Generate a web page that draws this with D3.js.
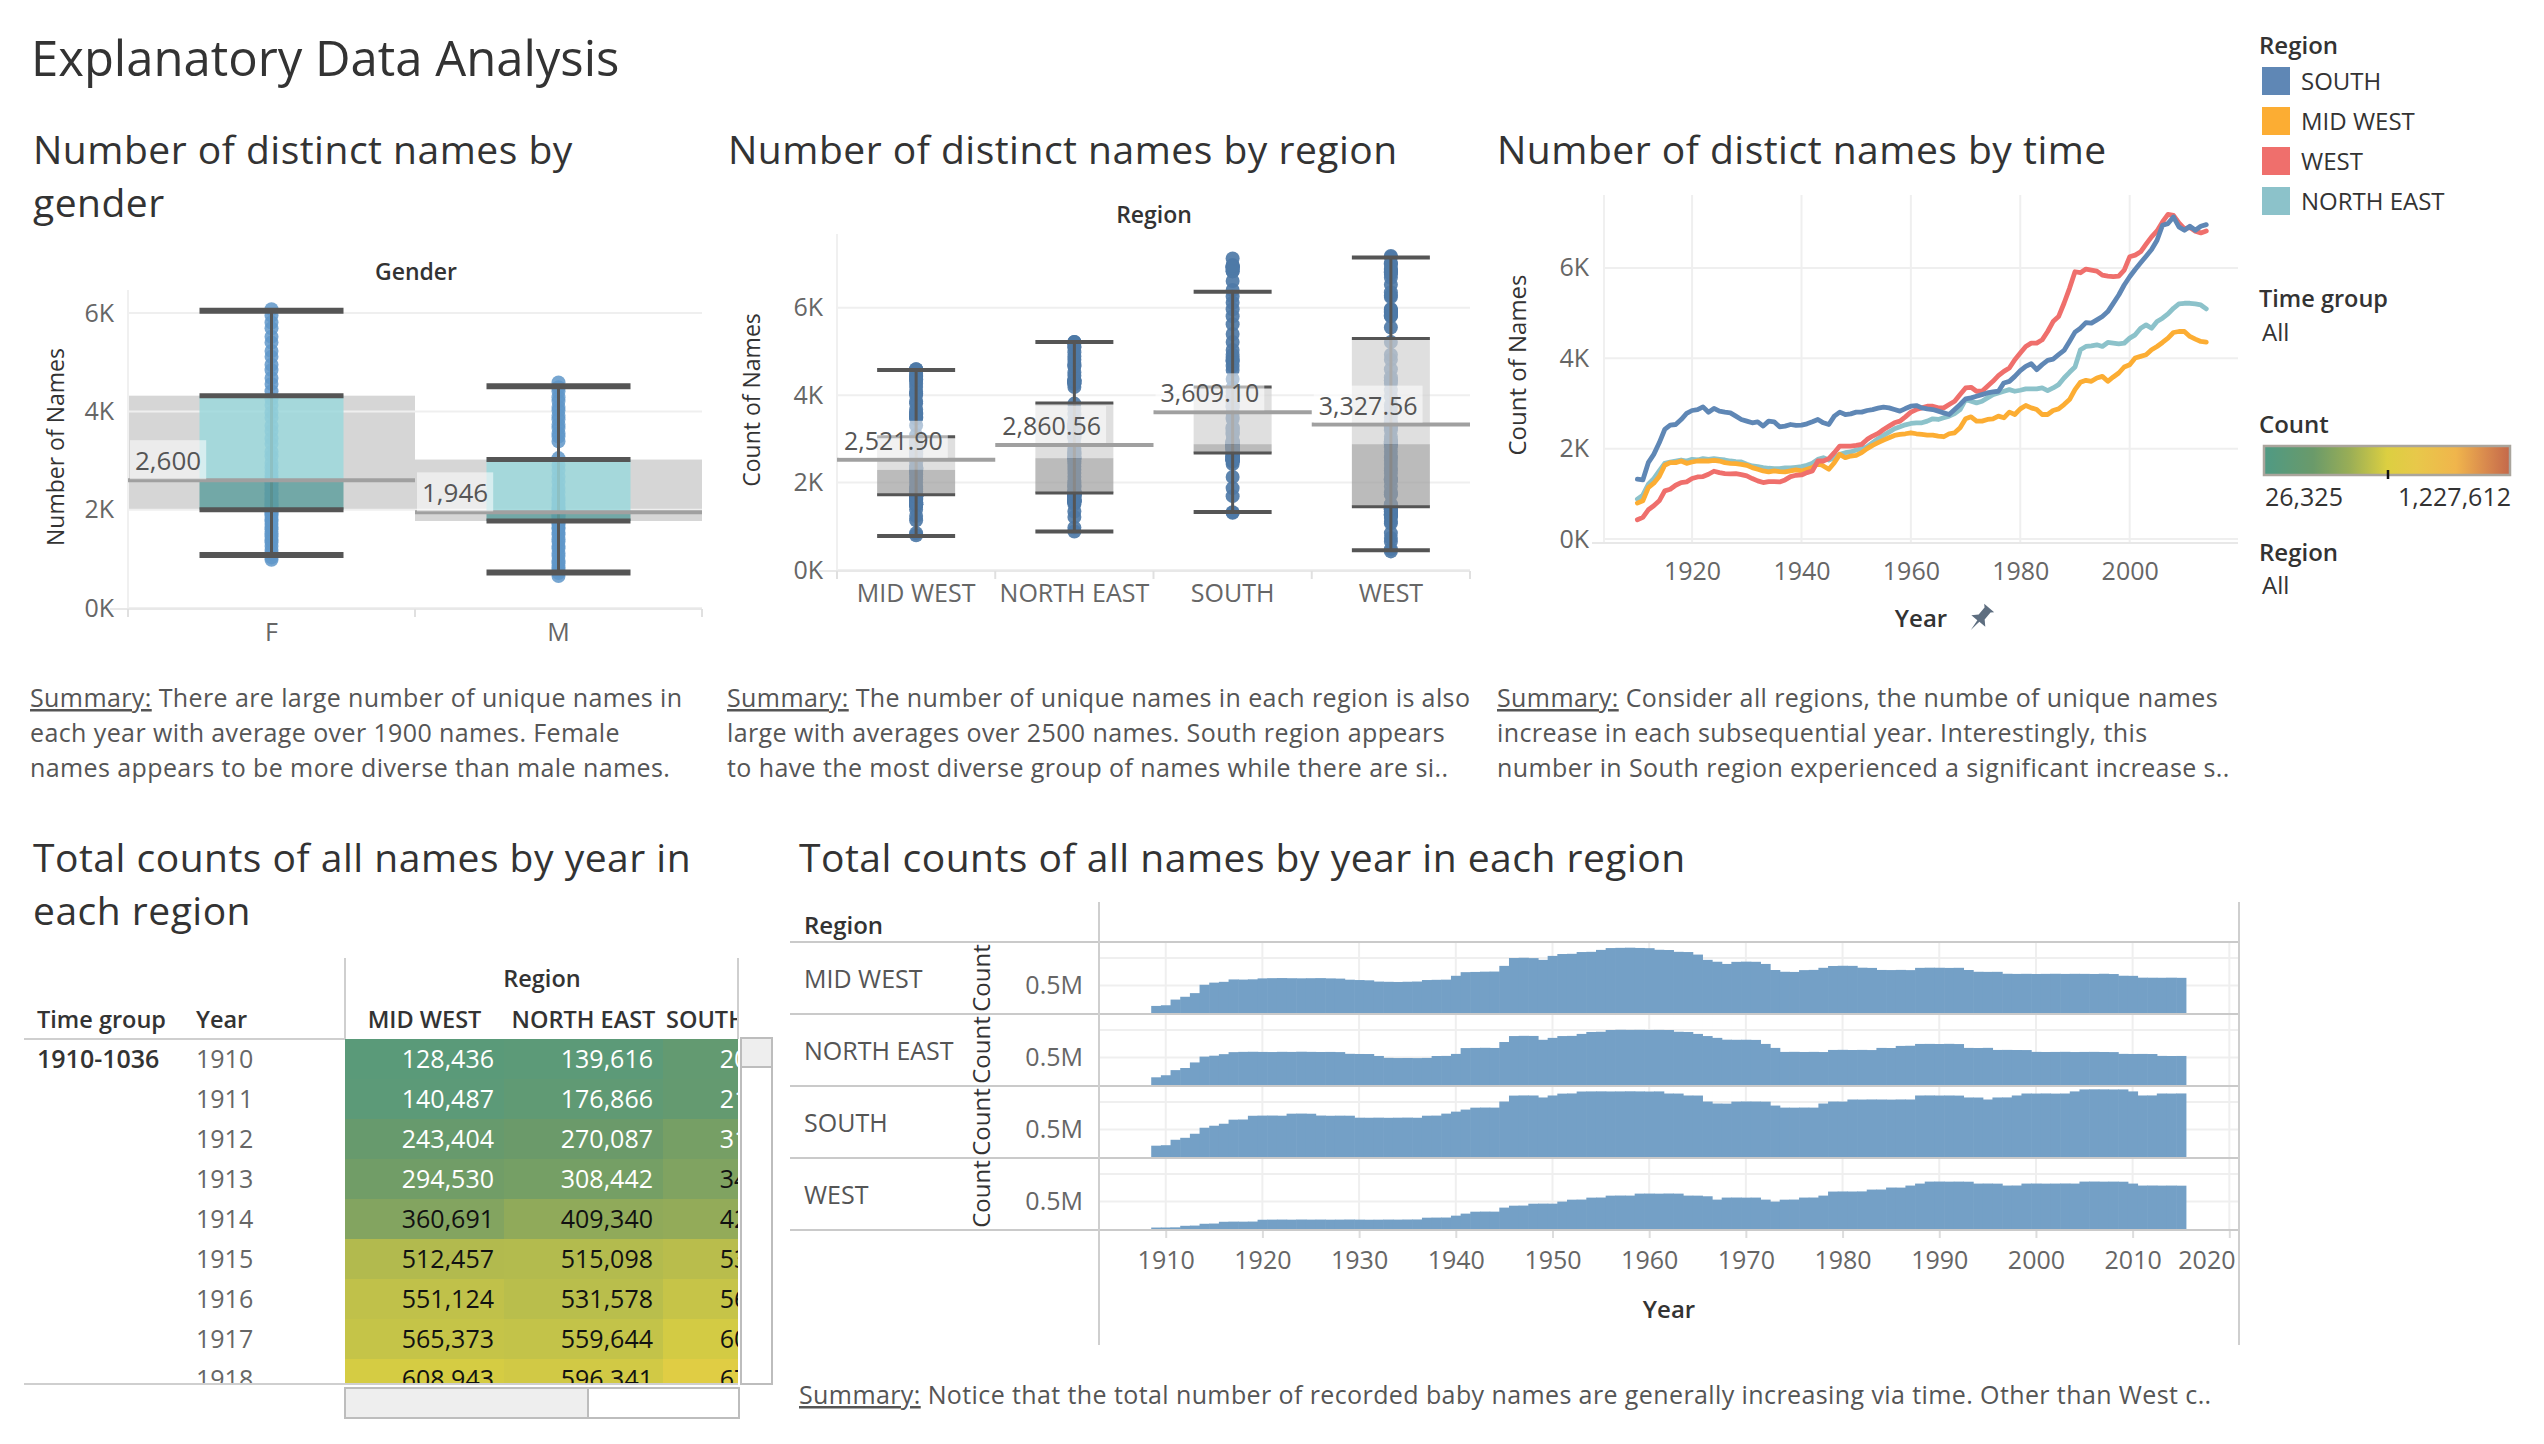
<!DOCTYPE html>
<html>
<head>
<meta charset="utf-8">
<script src="https://cdn.jsdelivr.net/npm/d3@7"></script>
<style>
  body { margin: 0; background: #fff; }
</style>
</head>
<body>
<div id="dash"></div>
<script>
var W = 2544, H = 1444;
var FONT = "'Open Sans', 'Noto Sans', sans-serif";

// ---------------- data ----------------
var regions = ["SOUTH", "MID WEST", "WEST", "NORTH EAST"];
var regionColors = ["#5f87b5", "#fcad33", "#ef6f6c", "#8cc2ca"];
var boxRegions = ["MID WEST", "NORTH EAST", "SOUTH", "WEST"];
var genders = ["F", "M"];

// distinct names per year (line chart + dots of the region box plot)
var lineYears = d3.range(1910, 2015);
var distinctSouth = [1323,1308,1690,1874,2130,2425,2520,2535,2645,2780,
  2845,2866,2925,2808,2890,2830,2808,2793,2720,2646,
  2610,2572,2595,2500,2610,2595,2484,2500,2535,2514,
  2520,2550,2595,2646,2572,2535,2720,2808,2756,2771,
  2808,2808,2845,2866,2896,2918,2903,2866,2830,2888,
  2940,2955,2903,2881,2866,2830,2793,2756,2866,2977,
  3102,3124,3160,3197,3234,3256,3271,3455,3490,3600,
  3726,3822,3880,3750,3860,3955,3984,4080,4175,4373,
  4580,4667,4792,4778,4850,4925,5035,5218,5402,5623,
  5807,5968,6115,6262,6409,6615,6946,6983,7130,6910,
  6836,6924,6836,6924,6960];
var distinctMidWest = [794,845,1139,1235,1382,1632,1690,1690,1727,1676,
  1705,1727,1727,1727,1742,1727,1690,1676,1668,1654,
  1632,1580,1543,1507,1485,1507,1492,1485,1507,1529,
  1507,1543,1580,1676,1617,1543,1690,1874,1800,1837,
  1852,1911,2000,2073,2132,2190,2242,2293,2315,2330,
  2352,2330,2315,2300,2300,2279,2264,2330,2352,2462,
  2661,2705,2609,2609,2646,2661,2720,2683,2808,2756,
  2881,2955,2903,2866,2756,2756,2845,2881,2977,3087,
  3308,3469,3513,3491,3565,3601,3491,3587,3675,3808,
  3859,4006,4043,4079,4190,4263,4351,4447,4572,4594,
  4594,4484,4425,4373,4359];
var distinctWest = [426,478,647,735,845,1066,1102,1190,1250,1264,
  1338,1374,1382,1433,1500,1470,1448,1440,1448,1426,
  1396,1338,1286,1250,1272,1272,1264,1308,1382,1411,
  1418,1470,1507,1727,1727,1779,1911,2058,2058,2058,
  2073,2095,2205,2279,2337,2425,2499,2572,2609,2705,
  2808,2866,2903,2940,2940,2903,2903,2977,3050,3197,
  3344,3359,3271,3271,3381,3491,3616,3712,3785,3969,
  4116,4263,4337,4337,4410,4594,4814,4925,5219,5549,
  5917,5895,5976,5954,5931,5843,5821,5807,5821,5954,
  6248,6284,6358,6527,6689,6821,7019,7188,7166,6997,
  6872,6894,6814,6777,6821];
var distinctNorthEast = [882,970,1213,1338,1507,1676,1705,1727,1749,1727,
  1764,1749,1779,1764,1779,1764,1749,1727,1713,1705,
  1654,1617,1602,1580,1566,1558,1558,1573,1573,1588,
  1602,1632,1676,1764,1800,1749,1800,1874,1911,1926,
  1970,2000,2043,2132,2220,2293,2367,2440,2484,2528,
  2558,2573,2573,2609,2661,2646,2683,2720,2778,2866,
  3087,3050,3014,3050,3124,3197,3234,3271,3308,3271,
  3293,3322,3322,3322,3344,3285,3344,3418,3565,3690,
  3808,4190,4263,4278,4300,4263,4351,4337,4322,4337,
  4447,4520,4667,4740,4667,4814,4888,4983,5108,5204,
  5219,5219,5204,5182,5094];

// distinct names per year by gender (dots of the gender box plot)
var distinctFemale = [980,1030,1110,1180,1260,1340,1390,1460,1520,1600,1650,1710,1770,1800,1870,
  1920,1950,2010,2040,2090,2110,2170,2220,2250,2310,2340,2400,2430,2490,2540,2580,2630,2690,
  2770,2860,2950,3090,3180,3340,3450,3600,3710,3870,3980,4130,4250,4410,4560,4680,4840,4950,
  5110,5230,5400,5520,5690,5810,5950,6080];
var distinctMale = [650,710,770,830,910,960,1060,1110,1210,1260,1350,1400,1490,1530,1610,1640,
  1710,1730,1790,1800,1860,1870,1920,1930,1980,2010,2060,2120,2190,2250,2360,2440,2570,2670,
  2810,2910,3050,3390,3490,3550,3660,3730,3840,3910,4020,4090,4210,4290,4410,4490,4590];

// box plot statistics
var genderLow = [1080, 720], genderQ1 = [2000, 1770], genderMedian = [2620, 1960],
    genderQ3 = [4320, 3020], genderHigh = [6050, 4510], genderAvg = [2600, 1946];
var regionLow = [780, 880, 1330, 450], regionQ1 = [1720, 1760, 2680, 1450],
    regionMedian = [2290, 2560, 2880, 2880], regionQ3 = [3050, 3820, 4190, 5300],
    regionHigh = [4580, 5220, 6370, 7150], regionAvg = [2521.90, 2860.56, 3609.10, 3327.56];

// total counts (thousands) per year, 1910-2016
var barYears = d3.range(1910, 2017);
var countMidWest = [128.436,140.487,243.404,294.530,360.691,512.457,551.124,565.373,608.943,606,
  611,628,632,634,631,629,631,633,628,624,
  604,598,593,570,566,563,567,571,598,602,
  605,675,741,745,750,752,855,998,1002,996,
  964,1036,1070,1074,1106,1110,1145,1178,1182,1185,
  1180,1176,1147,1143,1110,1106,1060,964,930,890,
  928,932,929,890,780,748,745,778,782,820,
  853,857,855,822,818,781,779,782,778,819,
  822,821,818,820,780,748,746,747,712,709,
  711,708,710,712,709,711,710,708,712,707,
  676,674,641,640,639,641,638];
var countNorthEast = [139.616,176.866,270.087,308.442,409.340,515.098,531.578,559.644,596.341,601,
  603,600,598,602,600,604,601,599,600,597,
  566,563,562,527,492,489,490,488,491,526,
  528,564,670,673,675,672,780,888,892,890,
  820,855,888,891,927,962,966,998,1002,1000,
  1001,999,1000,998,966,962,927,888,855,822,
  820,821,818,745,673,600,602,599,601,598,
  636,638,635,637,634,673,671,709,712,745,
  746,744,747,743,673,671,674,636,637,635,
  634,601,599,600,602,598,600,601,599,597,
  565,563,564,562,528,526,527];
var countSouth = [205.318,214.027,312.466,348.205,421.873,531.092,567.344,603.518,677.102,680,
  748,751,752,749,786,788,785,752,748,750,
  749,713,712,714,711,713,715,712,749,751,
  787,823,860,895,897,896,1006,1114,1117,1116,
  1080,1116,1150,1153,1188,1190,1191,1189,1190,1192,
  1190,1188,1190,1152,1151,1116,1115,1006,970,968,
  1005,1007,1006,1004,933,896,895,897,896,970,
  1006,1005,1043,1042,1044,1043,1041,1044,1043,1116,
  1117,1115,1116,1114,1080,1079,1043,1080,1081,1116,
  1152,1151,1153,1150,1152,1190,1226,1227.612,1227,1225,
  1226,1190,1116,1117,1152,1151,1153];
var countWest = [26.325,27,30,58,62,95,99,131,134,133,
  135,168,170,171,169,172,170,171,169,170,
  172,170,168,169,171,170,172,173,205,207,
  208,242,279,314,316,315,388,423,425,459,
  461,460,497,532,534,569,571,605,607,606,
  642,643,641,644,642,606,605,594,533,570,
  571,569,570,533,497,532,534,570,571,606,
  679,681,680,682,715,716,752,751,788,824,
  860,861,859,860,858,824,825,823,788,789,
  824,825,823,824,826,824,860,861,859,860,
  858,824,788,789,787,788,786];

var tableRegions = ["MID WEST", "NORTH EAST", "SOUTH"];
var tableYears = [1910, 1911, 1912, 1913, 1914, 1915, 1916, 1917, 1918];
var tableGroup = "1910-1036";

// ---------------- helpers ----------------
var svg = d3.select('#dash').append('svg')
  .attr('width', W).attr('height', H)
  .style('background', '#fff')
  .style('font-family', FONT);

function label(x, y, txt, size, color, anchor, weight) {
  return svg.append('text')
    .attr('x', x).attr('y', y)
    .attr('text-anchor', anchor || 'start')
    .attr('fill', color || '#333')
    .style('font-size', size + 'px')
    .style('font-weight', weight || 400)
    .text(txt);
}

function title(x, y, txt) {
  return label(x, y, txt, 39, '#333').style('letter-spacing', '0.5px');
}

function vlabel(x, y, txt, size, color) {
  return svg.append('text')
    .attr('transform', 'translate(' + x + ',' + y + ') rotate(-90)')
    .attr('text-anchor', 'middle')
    .attr('fill', color || '#333')
    .style('font-size', size + 'px')
    .text(txt);
}

function hline(x1, x2, y, color, w) {
  svg.append('line').attr('x1', x1).attr('x2', x2).attr('y1', y).attr('y2', y)
    .attr('stroke', color).attr('stroke-width', w || 1);
}
function vline(x, y1, y2, color, w) {
  svg.append('line').attr('x1', x).attr('x2', x).attr('y1', y1).attr('y2', y2)
    .attr('stroke', color).attr('stroke-width', w || 1);
}

function styleAxis(ax, size, color) {
  ax.attr('font-family', FONT);
  ax.select('.domain').remove();
  ax.selectAll('text').style('font-size', size + 'px').attr('fill', color || '#666');
}

function summary(x, y, lines) {
  var t = svg.append('text').attr('x', x).attr('y', y)
    .attr('fill', '#555').style('font-size', '25px').style('letter-spacing', '0.4px');
  lines.forEach(function(line, i) {
    var ts = t.append('tspan').attr('x', x).attr('dy', i == 0 ? 0 : 35);
    if (i == 0) {
      ts.append('tspan').style('text-decoration', 'underline').text('Summary:');
      t.append('tspan').text(' ' + line);
    } else {
      ts.text(line);
    }
  });
}

// ---------------- titles ----------------
label(31, 76, 'Explanatory Data Analysis', 49, '#333');
title(33, 164, 'Number of distinct names by');
title(33, 217, 'gender');
title(728, 164, 'Number of distinct names by region');
title(1497, 164, 'Number of distict names by time');
title(33, 872, 'Total counts of all names by year in');
title(33, 925, 'each region');
title(799, 872, 'Total counts of all names by year in each region');

// ---------------- box plot panels ----------------
function boxPanel(o) {
  var g = svg.append('g');
  var x = d3.scaleBand().domain(o.cats).range([o.left, o.right]);
  var bw = x.bandwidth();

  if (o.band) {
    g.selectAll('rect.band').data(o.cats).enter().append('rect')
      .attr('class', 'band')
      .attr('x', function(d) { return x(d); })
      .attr('width', bw)
      .attr('y', function(d, i) { return o.y(o.q3[i]); })
      .attr('height', function(d, i) { return o.y(o.q1[i]) - o.y(o.q3[i]); })
      .attr('fill', '#d6d6d6');
  }

  g.selectAll('line.grid').data(o.ticks).enter().append('line')
    .attr('x1', o.left).attr('x2', o.right)
    .attr('y1', function(d) { return o.y(d); })
    .attr('y2', function(d) { return o.y(d); })
    .attr('stroke', '#efefef').attr('stroke-width', 2);

  g.append('line').attr('x1', o.left).attr('x2', o.left)
    .attr('y1', o.top).attr('y2', o.bottom).attr('stroke', '#f0f0f0').attr('stroke-width', 2);
  g.append('line').attr('x1', o.left - 18).attr('x2', o.right)
    .attr('y1', o.bottom).attr('y2', o.bottom).attr('stroke', '#e8e8e8').attr('stroke-width', 2);

  var ax = g.append('g').attr('transform', 'translate(' + o.left + ',0)')
    .call(d3.axisLeft(o.y).tickValues(o.ticks)
      .tickFormat(function(d) { return d / 1000 + 'K'; })
      .tickSize(0).tickPadding(14));
  styleAxis(ax, 25, '#666');

  var bx = g.append('g').attr('transform', 'translate(0,' + o.bottom + ')')
    .call(d3.axisBottom(x).tickSize(0).tickPadding(o.catPad));
  styleAxis(bx, 25, '#666');

  g.selectAll('line.sep').data(o.cats.concat(['end'])).enter().append('line')
    .attr('x1', function(d, i) { return o.left + i * bw; })
    .attr('x2', function(d, i) { return o.left + i * bw; })
    .attr('y1', o.bottom).attr('y2', o.bottom + 8)
    .attr('stroke', '#e0e0e0').attr('stroke-width', 2);

  o.cats.forEach(function(c, i) {
    var cx = x(c) + bw / 2;
    var hw = o.boxW / 2;

    g.append('g').selectAll('circle').data(o.values[i]).enter().append('circle')
      .attr('cx', cx).attr('cy', function(d) { return o.y(d); })
      .attr('r', 7).attr('fill', o.dotFill).attr('fill-opacity', o.dotOpacity);

    g.append('line').attr('x1', cx).attr('x2', cx)
      .attr('y1', o.y(o.low[i])).attr('y2', o.y(o.high[i]))
      .attr('stroke', '#555').attr('stroke-width', 3);

    g.append('rect').attr('x', cx - hw).attr('width', o.boxW)
      .attr('y', o.y(o.q3[i])).attr('height', o.y(o.med[i]) - o.y(o.q3[i]))
      .attr('fill', o.upper).attr('fill-opacity', o.boxOpacity);
    g.append('rect').attr('x', cx - hw).attr('width', o.boxW)
      .attr('y', o.y(o.med[i])).attr('height', o.y(o.q1[i]) - o.y(o.med[i]))
      .attr('fill', o.lower).attr('fill-opacity', o.boxOpacity);

    [o.q1[i], o.q3[i]].forEach(function(v) {
      g.append('line').attr('x1', cx - hw).attr('x2', cx + hw)
        .attr('y1', o.y(v)).attr('y2', o.y(v))
        .attr('stroke', '#555').attr('stroke-width', o.edgeW);
    });
    [o.low[i], o.high[i]].forEach(function(v) {
      g.append('line').attr('x1', cx - hw).attr('x2', cx + hw)
        .attr('y1', o.y(v)).attr('y2', o.y(v))
        .attr('stroke', '#555').attr('stroke-width', o.capW);
    });

    // average reference line
    g.append('line').attr('x1', x(c)).attr('x2', x(c) + bw)
      .attr('y1', o.y(o.avg[i])).attr('y2', o.y(o.avg[i]))
      .attr('stroke', '#a0a0a0').attr('stroke-width', 4);

    var lg = g.append('g');
    var bg = lg.append('rect');
    var lt = lg.append('text')
      .attr('x', x(c) + 7).attr('y', o.y(o.avg[i]) - 10)
      .attr('fill', '#555').style('font-size', o.avgSize + 'px')
      .text(o.avgFormat(o.avg[i]));
    var bb = lt.node().getBBox();
    bg.attr('x', bb.x - 5).attr('y', bb.y - 2)
      .attr('width', bb.width + 10).attr('height', bb.height + 3)
      .attr('fill', '#fff').attr('fill-opacity', 0.55);
  });
}

// gender
label(416, 280, 'Gender', 23, '#333', 'middle', 600);
vlabel(64, 447, 'Number of Names', 23);
boxPanel({
  cats: genders, left: 128, right: 702, top: 290, bottom: 609,
  y: d3.scaleLinear().domain([0, 6470]).range([608, 290]),
  ticks: [0, 2000, 4000, 6000], catPad: 14,
  values: [distinctFemale, distinctMale],
  low: genderLow, q1: genderQ1, med: genderMedian, q3: genderQ3, high: genderHigh, avg: genderAvg,
  avgFormat: d3.format(','), avgSize: 26,
  boxW: 144, band: true,
  upper: '#9ad8dc', lower: '#5b9e9c', boxOpacity: 0.82,
  dotFill: '#5f97c9', dotOpacity: 0.85, edgeW: 5, capW: 6
});

// region
label(1154, 223, 'Region', 23, '#333', 'middle', 600);
vlabel(760, 400, 'Count of Names', 23);
boxPanel({
  cats: boxRegions, left: 837, right: 1470, top: 234, bottom: 571,
  y: d3.scaleLinear().domain([0, 7690]).range([570, 234]),
  ticks: [0, 2000, 4000, 6000], catPad: 13,
  values: [distinctMidWest, distinctNorthEast, distinctSouth, distinctWest],
  low: regionLow, q1: regionQ1, med: regionMedian, q3: regionQ3, high: regionHigh, avg: regionAvg,
  avgFormat: d3.format(',.2f'), avgSize: 25,
  boxW: 78, band: false,
  upper: '#d2d2d2', lower: '#9e9e9e', boxOpacity: 0.7,
  dotFill: '#4e79a7', dotOpacity: 0.92, edgeW: 3, capW: 4
});

// ---------------- line chart ----------------
var lx = d3.scaleLinear().domain([1903.9, 2019.8]).range([1604, 2238]);
var ly = d3.scaleLinear().domain([0, 7616]).range([539, 195]);
var lineTicksX = [1920, 1940, 1960, 1980, 2000];
var lineTicksY = [0, 2000, 4000, 6000];

svg.append('g').selectAll('line').data(lineTicksX).enter().append('line')
  .attr('x1', function(d) { return lx(d); }).attr('x2', function(d) { return lx(d); })
  .attr('y1', 195).attr('y2', 542).attr('stroke', '#efefef').attr('stroke-width', 2);
svg.append('g').selectAll('line').data(lineTicksY).enter().append('line')
  .attr('x1', 1604).attr('x2', 2238)
  .attr('y1', function(d) { return ly(d); }).attr('y2', function(d) { return ly(d); })
  .attr('stroke', '#efefef').attr('stroke-width', 2);
vline(1604, 195, 544, '#f0f0f0', 2);
hline(1592, 2238, 543, '#e8e8e8', 2);

var lax = svg.append('g').attr('transform', 'translate(1604,0)')
  .call(d3.axisLeft(ly).tickValues(lineTicksY)
    .tickFormat(function(d) { return d / 1000 + 'K'; }).tickSize(0).tickPadding(15));
styleAxis(lax, 25, '#666');
var lbx = svg.append('g').attr('transform', 'translate(0,543)')
  .call(d3.axisBottom(lx).tickValues(lineTicksX).tickFormat(d3.format('d')).tickSize(0).tickPadding(19));
styleAxis(lbx, 25, '#666');

vlabel(1526, 365, 'Count of Names', 24);
label(1921, 627, 'Year', 24, '#333', 'middle', 600);
svg.append('path')
  .attr('transform', 'translate(1980,619) rotate(40) scale(1.3)')
  .attr('d', 'M-5,-11 L5,-11 L3,-9 L3,-2 L7,2 L1,2 L0,11 L-1,2 L-7,2 L-3,-2 L-3,-9 Z')
  .attr('fill', '#5e6e80');

var lineSeries = [
  { name: 'NORTH EAST', values: distinctNorthEast },
  { name: 'MID WEST', values: distinctMidWest },
  { name: 'WEST', values: distinctWest },
  { name: 'SOUTH', values: distinctSouth }
];
var regionColor = d3.scaleOrdinal().domain(regions).range(regionColors);
var lineGen = d3.line()
  .x(function(d, i) { return lx(lineYears[i]); })
  .y(function(d) { return ly(d); });
svg.append('g').selectAll('path').data(lineSeries).enter().append('path')
  .attr('d', function(d) { return lineGen(d.values); })
  .attr('fill', 'none')
  .attr('stroke', function(d) { return regionColor(d.name); })
  .attr('stroke-width', 4.8)
  .attr('stroke-linejoin', 'round').attr('stroke-linecap', 'round');

// ---------------- legends ----------------
label(2259, 54, 'Region', 24, '#333', 'start', 600);
var leg = svg.append('g').selectAll('g').data(regions).enter().append('g')
  .attr('transform', function(d, i) { return 'translate(2262,' + (67 + i * 40) + ')'; });
leg.append('rect').attr('width', 28).attr('height', 28)
  .attr('fill', function(d) { return regionColor(d); });
leg.append('text').attr('x', 39).attr('y', 23).attr('fill', '#333')
  .style('font-size', '24px').text(function(d) { return d; });

label(2259, 307, 'Time group', 23.5, '#333', 'start', 600);
label(2262, 341, 'All', 24, '#333');

var allCounts = countMidWest.concat(countNorthEast, countSouth, countWest);
var countExtent = d3.extent(allCounts);
var heatFrac = [0, 0.2, 0.35, 0.5, 0.62, 0.78, 0.9, 1];
var heatColors = ['#4f9a84', '#6a9a6a', '#9aae56', '#dccf41', '#e8c84a', '#f0b54c', '#d98a4e', '#c4684a'];
var heat = d3.scaleLinear()
  .domain(heatFrac.map(function(f) { return countExtent[0] + f * (countExtent[1] - countExtent[0]); }))
  .range(heatColors).interpolate(d3.interpolateRgb);

label(2259, 433, 'Count', 24, '#333', 'start', 600);
var grad = svg.append('defs').append('linearGradient').attr('id', 'heatGrad');
grad.selectAll('stop').data(heatFrac).enter().append('stop')
  .attr('offset', function(d) { return d * 100 + '%'; })
  .attr('stop-color', function(d, i) { return heatColors[i]; });
svg.append('rect').attr('x', 2264).attr('y', 446).attr('width', 246).attr('height', 29)
  .attr('fill', 'url(#heatGrad)').attr('stroke', '#aaa59c').attr('stroke-width', 2.5);
vline(2388, 470, 479, '#111', 2.5);
label(2265, 506, d3.format(',')(Math.round(countExtent[0] * 1000)), 25, '#333');
label(2511, 506, d3.format(',')(Math.round(countExtent[1] * 1000)), 25, '#333', 'end');

label(2259, 561, 'Region', 24, '#333', 'start', 600);
label(2262, 594, 'All', 24, '#333');

// ---------------- summaries ----------------
summary(30, 707, ['There are large number of unique names in',
  'each year with average over 1900 names. Female',
  'names appears to be more diverse than male names.']);
summary(727, 707, ['The number of unique names in each region is also',
  'large with averages over 2500 names. South region appears',
  'to have the most diverse group of names while there are si..']);
summary(1497, 707, ['Consider all regions, the numbe of unique names',
  'increase in each subsequential year. Interestingly, this',
  'number in South region experienced a significant increase s..']);
summary(799, 1404, ['Notice that the total number of recorded baby names are generally increasing via time. Other than West c..']);

// ---------------- table ----------------
var tableData = { 'MID WEST': countMidWest, 'NORTH EAST': countNorthEast, 'SOUTH': countSouth };
var colX = d3.scaleBand().domain(tableRegions).range([345, 822]);
var rowY = d3.scaleBand().domain(tableYears).range([1039, 1039 + 40 * tableYears.length]);
var tableRight = 738;

svg.append('defs').append('clipPath').attr('id', 'tableClip')
  .append('rect').attr('x', 20).attr('y', 940).attr('width', tableRight - 20).attr('height', 444);
var tg = svg.append('g').attr('clip-path', 'url(#tableClip)');

label(542, 987, 'Region', 23.5, '#333', 'middle', 600);
label(37, 1028, 'Time group', 23.5, '#333', 'start', 600);
label(196, 1028, 'Year', 23.5, '#333', 'start', 600);
tg.selectAll('text.colh').data(tableRegions).enter().append('text')
  .attr('y', 1028).attr('fill', '#333')
  .style('font-size', '23.5px').style('font-weight', 600)
  .text(function(d) { return d; })
  .attr('x', function(d) {
    // headers of a partly hidden column stay at its left edge
    var w = this.getComputedTextLength();
    if (colX(d) + colX.bandwidth() > tableRight) return colX(d) + 3;
    return colX(d) + (colX.bandwidth() - w) / 2;
  });

var cells = [];
tableRegions.forEach(function(r) {
  tableYears.forEach(function(yr) {
    cells.push({ region: r, year: yr, value: tableData[r][barYears.indexOf(yr)] });
  });
});
tg.selectAll('rect.cell').data(cells).enter().append('rect')
  .attr('x', function(d) { return colX(d.region); })
  .attr('y', function(d) { return rowY(d.year); })
  .attr('width', colX.bandwidth() + 0.5).attr('height', rowY.bandwidth() + 0.5)
  .attr('fill', function(d) { return heat(d.value); });
tg.selectAll('text.cell').data(cells).enter().append('text')
  .attr('x', function(d) { return colX(d.region) + colX.bandwidth() - 10; })
  .attr('y', function(d) { return rowY(d.year) + 29; })
  .attr('text-anchor', 'end')
  .attr('fill', function(d) { return d3.lab(heat(d.value)).l < 62 ? '#fff' : '#111'; })
  .style('font-size', '25px')
  .text(function(d) { return d3.format(',')(Math.round(d.value * 1000)); });
tg.selectAll('text.yr').data(tableYears).enter().append('text')
  .attr('x', 196).attr('y', function(d) { return rowY(d) + 29; })
  .attr('fill', '#666').style('font-size', '25px')
  .text(function(d) { return d; });
tg.append('text').attr('x', 37).attr('y', rowY(tableYears[0]) + 29)
  .attr('fill', '#333').style('font-size', '25px').style('font-weight', 600)
  .text(tableGroup);

hline(24, 345, 1039, '#cfcfcf', 2);
hline(24, 738, 1384, '#cfcfcf', 2);
vline(345, 958, 1039, '#cfcfcf', 2);
vline(738, 958, 1039, '#cfcfcf', 2);
// scroll bars
svg.append('rect').attr('x', 741).attr('y', 1038).attr('width', 31).attr('height', 346)
  .attr('fill', '#fff').attr('stroke', '#bdbdbd').attr('stroke-width', 2);
svg.append('rect').attr('x', 741).attr('y', 1038).attr('width', 31).attr('height', 29)
  .attr('fill', '#eee').attr('stroke', '#bdbdbd').attr('stroke-width', 2);
svg.append('rect').attr('x', 345).attr('y', 1388).attr('width', 394).attr('height', 30)
  .attr('fill', '#fff').attr('stroke', '#bdbdbd').attr('stroke-width', 2);
svg.append('rect').attr('x', 345).attr('y', 1388).attr('width', 243).attr('height', 30)
  .attr('fill', '#eee').attr('stroke', '#bdbdbd').attr('stroke-width', 2);

// ---------------- bar chart ----------------
var barRows = [
  { name: 'MID WEST', values: countMidWest },
  { name: 'NORTH EAST', values: countNorthEast },
  { name: 'SOUTH', values: countSouth },
  { name: 'WEST', values: countWest }
];
var bx = d3.scaleLinear().domain([1903.1, 2021.0]).range([1099, 2239]);
var decades = d3.range(1910, 2030, 10);
var rowBand = d3.scaleBand().domain(barRows.map(function(d) { return d.name; })).range([942, 1230]);

label(804, 934, 'Region', 24, '#333', 'start', 600);

svg.append('g').selectAll('line').data(decades).enter().append('line')
  .attr('x1', function(d) { return bx(d); }).attr('x2', function(d) { return bx(d); })
  .attr('y1', 942).attr('y2', 1230).attr('stroke', '#efefef').attr('stroke-width', 2);

barRows.forEach(function(row) {
  var top = rowBand(row.name);
  var by = d3.scaleLinear().domain([0, 1270]).range([top + 71, top + 1]);
  var g = svg.append('g');
  g.selectAll('line.grid').data([500, 1000]).enter().append('line')
    .attr('x1', 1099).attr('x2', 2239)
    .attr('y1', function(d) { return by(d); }).attr('y2', function(d) { return by(d); })
    .attr('stroke', '#efefef').attr('stroke-width', 2);
  g.selectAll('rect').data(row.values).enter().append('rect')
    .attr('x', function(d, i) { return bx(barYears[i] - 1.5); })
    .attr('width', function(d, i) { return bx(barYears[i] - 0.5) - bx(barYears[i] - 1.5) + 0.6; })
    .attr('y', function(d) { return by(d); })
    .attr('height', function(d) { return by(0) - by(d); })
    .attr('fill', '#74a0c6');
  var ax = g.append('g').attr('transform', 'translate(1099,0)')
    .call(d3.axisLeft(by).tickValues([500])
      .tickFormat(function(d) { return d / 1000 + 'M'; }).tickSize(0).tickPadding(16));
  styleAxis(ax, 25, '#666');
  label(804, top + 46, row.name, 25, '#555');
  vlabel(990, top + 36, 'Count', 24);
});

rowBand.domain().forEach(function(r) { hline(790, 2239, rowBand(r), '#cacaca', 2); });
hline(790, 2239, 1230, '#cacaca', 2);
vline(1099, 902, 1345, '#cfcfcf', 2);
vline(2239, 902, 1345, '#cfcfcf', 2);

var bax = svg.append('g').attr('transform', 'translate(0,1231)')
  .call(d3.axisBottom(bx).tickValues(decades).tickFormat(d3.format('d')).tickSize(7).tickPadding(13));
bax.attr('font-family', FONT);
bax.select('.domain').remove();
bax.selectAll('line').attr('stroke', '#ddd').attr('stroke-width', 2);
bax.selectAll('text').style('font-size', '25px').attr('fill', '#666');
bax.selectAll('.tick').filter(function(d) { return d === 2020; }).select('text')
  .attr('text-anchor', 'end').attr('x', 2235 - bx(2020));
label(1669, 1318, 'Year', 24, '#333', 'middle', 600);
</script>
</body>
</html>
